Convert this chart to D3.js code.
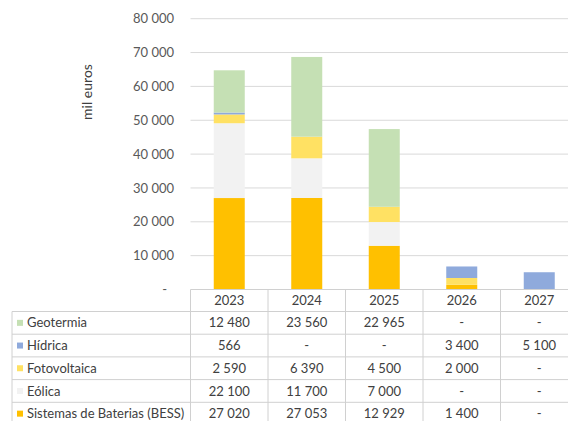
<!DOCTYPE html>
<html>
<head>
<meta charset="utf-8">
<script src="https://cdn.jsdelivr.net/npm/d3@7"></script>
<style>
  body { margin: 0; background: #fff; }
  svg { display: block; font-family: Lato, "Open Sans", sans-serif; }
</style>
</head>
<body>
<div id="draw_here"></div>
<script>
    // Data
    years = ["2023", "2024", "2025", "2026", "2027"]
    geotermia = [12480, 23560, 22965, 0, 0]
    hidrica = [566, 0, 0, 3400, 5100]
    fotovoltaica = [2590, 6390, 4500, 2000, 0]
    eolica = [22100, 11700, 7000, 0, 0]
    bess = [27020, 27053, 12929, 1400, 0]
    yTicks = [0, 10000, 20000, 30000, 40000, 50000, 60000, 70000, 80000]

    // bottom to top in the stack; table lists them top to bottom
    seriesNames = ["Sistemas de Baterias (BESS)", "Eólica", "Fotovoltaica", "Hídrica", "Geotermia"]
    seriesValues = [bess, eolica, fotovoltaica, hidrica, geotermia]
    seriesColors = ["#FFC000", "#F2F2F2", "#FFE163", "#8FAADC", "#C5E0B4"]

    canvas = ({width: 568, height: 421})
    plot = ({left: 190.5, right: 578, top: 18.7, bottom: 289.5})
    table = ({left: 12, headTop: 289.5, headH: 22, rowH: 22.7})
    txt = "#404040"

    rows = years.map((y, i) => {
        const r = {year: y}
        seriesNames.forEach((n, k) => r[n] = seriesValues[k][i])
        return r
    })
    stacked = d3.stack().keys(seriesNames)(rows)

    loc = d3.formatLocale({decimal: ",", thousands: " ", grouping: [3], currency: ["", ""]})
    fmt = v => v === 0 ? "-" : loc.format(",d")(v)

    x = d3.scaleBand()
        .domain(years)
        .range([plot.left, plot.right])
        .paddingInner(0).paddingOuter(0)

    y = d3.scaleLinear()
        .domain([0, 80000])
        .range([plot.bottom, plot.top])

    var svg = d3.select("#draw_here").append("svg")
        .attr("width", canvas.width)
        .attr("height", canvas.height)
        .attr("viewBox", [0, 0, canvas.width, canvas.height])

    // gridlines
    svg.append("g")
        .selectAll("line")
        .data(yTicks.filter(d => d > 0))
        .join("line")
        .attr("x1", plot.left).attr("x2", canvas.width)
        .attr("y1", d => y(d)).attr("y2", d => y(d))
        .attr("stroke", "#D9D9D9")
        .attr("stroke-width", 1)

    // y axis labels
    svg.append("g")
        .selectAll("text")
        .data(yTicks)
        .join("text")
        .attr("x", d => d === 0 ? 167 : 174)
        .attr("y", d => y(d))
        .attr("dy", "0.35em")
        .attr("text-anchor", "end")
        .attr("fill", "#595959")
        .attr("font-size", 13)
        .text(d => fmt(d))

    svg.append("text")
        .attr("transform", "translate(92,92) rotate(-90)")
        .attr("text-anchor", "middle")
        .attr("fill", txt)
        .attr("font-size", 14)
        .text("mil euros")

    // bars
    barW = x.bandwidth() * 0.4
    svg.append("g")
        .selectAll("g")
        .data(stacked)
        .join("g")
        .attr("fill", (d, i) => seriesColors[i])
        .selectAll("rect")
        .data(d => d)
        .join("rect")
        .attr("x", d => x(d.data.year) + (x.bandwidth() - barW) / 2)
        .attr("width", barW)
        .attr("y", d => y(d[1]))
        .attr("height", d => y(d[0]) - y(d[1]))

    // data table
    tb = svg.append("g")
    border = "#D0D0D0"
    bodyTop = table.headTop + table.headH
    tableRows = seriesNames.map((n, k) => ({name: n, vals: seriesValues[k], color: seriesColors[k]})).reverse()
    bodyBottom = bodyTop + table.rowH * tableRows.length

    // header cells
    tb.selectAll("text.head")
        .data(years)
        .join("text")
        .attr("class", "head")
        .attr("x", d => x(d) + x.bandwidth() / 2)
        .attr("y", table.headTop + table.headH / 2)
        .attr("dy", "0.35em")
        .attr("text-anchor", "middle")
        .attr("fill", txt)
        .attr("font-size", 13)
        .text(d => d)

    // horizontal lines
    tb.append("line")
        .attr("x1", plot.left).attr("x2", canvas.width)
        .attr("y1", table.headTop).attr("y2", table.headTop)
        .attr("stroke", border)
    tb.selectAll("line.h")
        .data(d3.range(tableRows.length + 1))
        .join("line")
        .attr("class", "h")
        .attr("x1", table.left).attr("x2", canvas.width)
        .attr("y1", i => bodyTop + i * table.rowH).attr("y2", i => bodyTop + i * table.rowH)
        .attr("stroke", border)

    // vertical lines
    tb.append("line")
        .attr("x1", table.left).attr("x2", table.left)
        .attr("y1", bodyTop).attr("y2", bodyBottom)
        .attr("stroke", border)
    tb.selectAll("line.v")
        .data(years)
        .join("line")
        .attr("class", "v")
        .attr("x1", d => x(d)).attr("x2", d => x(d))
        .attr("y1", table.headTop).attr("y2", bodyBottom)
        .attr("stroke", border)

    rowG = tb.selectAll("g.row")
        .data(tableRows)
        .join("g")
        .attr("class", "row")
        .attr("transform", (d, i) => `translate(0,${bodyTop + i * table.rowH + table.rowH / 2})`)

    rowG.append("rect")
        .attr("x", 17).attr("y", -3)
        .attr("width", 6).attr("height", 6)
        .attr("fill", d => d.color)
    rowG.append("text")
        .attr("x", 27)
        .attr("dy", "0.35em")
        .attr("fill", txt)
        .attr("font-size", 13)
        .text(d => d.name)
    rowG.selectAll("text.val")
        .data(d => d.vals)
        .join("text")
        .attr("class", "val")
        .attr("x", (d, i) => x(years[i]) + x.bandwidth() / 2)
        .attr("dy", "0.35em")
        .attr("text-anchor", "middle")
        .attr("fill", txt)
        .attr("font-size", 13)
        .text(d => fmt(d))
</script>
</body>
</html>
